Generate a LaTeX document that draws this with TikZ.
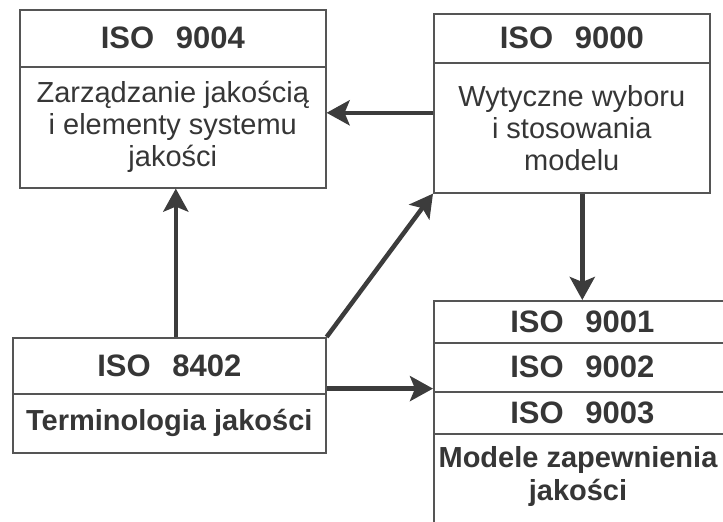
\documentclass[tikz,border=0pt]{standalone}
\usepackage{fontspec}
\setmainfont{Liberation Sans}
\usetikzlibrary{arrows.meta}
\definecolor{ink}{HTML}{363636}
\definecolor{frame}{HTML}{555555}
\definecolor{arrowc}{HTML}{3C3C3C}
\begin{document}
\begin{tikzpicture}[x=1pt,y=-1pt,
  cell/.style={draw=frame, line width=1.6pt, rectangle, inner sep=0pt, text=ink, align=center, anchor=north west},
  head/.style={font=\bfseries\fontsize{31}{31}\selectfont},
  body/.style={font=\fontsize{29}{32}\selectfont},
  bbody/.style={font=\bfseries\fontsize{29}{33}\selectfont, text=ink, align=center},
  flow/.style={draw=arrowc, line width=4.5pt, -{Stealth[length=23pt,width=25pt,inset=5pt]}}]
\useasboundingbox (0,0) rectangle (723,522);
\begin{scope}
\clip (0,0) rectangle (723,522);
% ISO 9004
\node[cell, head, minimum width=306pt, minimum height=57pt] (h9004) at (19,9) {ISO\hspace{0.7em}9004};
\node[cell, body, minimum width=306pt, minimum height=121pt] (b9004) at (19,66) {Zarządzanie jakością\\i elementy systemu\\jakości};
% ISO 9000
\node[cell, head, minimum width=276pt, minimum height=49pt] (h9000) at (433,13) {ISO\hspace{0.7em}9000};
\node[cell, body, minimum width=276pt, minimum height=130pt] (b9000) at (433,62) {Wytyczne wyboru\\i stosowania\\modelu};
% ISO 8402
\node[cell, head, minimum width=313pt, minimum height=56pt] (h8402) at (12,337) {ISO\hspace{0.7em}8402};
\node[cell, bbody, minimum width=313pt, minimum height=59pt] (b8402) at (12,393) {Terminologia jakości};
% ISO 9001-9003
\node[cell, head, minimum width=297pt, minimum height=42pt] (r9001) at (433,300) {ISO\hspace{0.7em}9001};
\node[cell, head, minimum width=297pt, minimum height=49pt] (r9002) at (433,342) {ISO\hspace{0.7em}9002};
\node[cell, head, minimum width=297pt, minimum height=42pt] (r9003) at (433,391) {ISO\hspace{0.7em}9003};
\node[cell, minimum width=297pt, minimum height=140pt] (bmod) at (433,433) {};
\node[bbody] (tmod) at (578,476) {Modele zapewnienia\\jakości};
% connectors
\draw[flow] ([yshift=15pt]b9000.west) -- ([yshift=15pt]b9000.west -| b9004.east);
\draw[flow] ([xshift=3pt]h8402.north -| b9004.south) -- ([xshift=3pt]b9004.south);
\draw[flow] (h8402.north east) -- (b9000.south west);
\draw[flow] (b9000.south -| r9001.north) -- (r9001.north);
\draw[flow] ([yshift=6pt]h8402.south east) -- ([yshift=6pt]h8402.south east -| r9002.west);
\end{scope}
\end{tikzpicture}
\end{document}
